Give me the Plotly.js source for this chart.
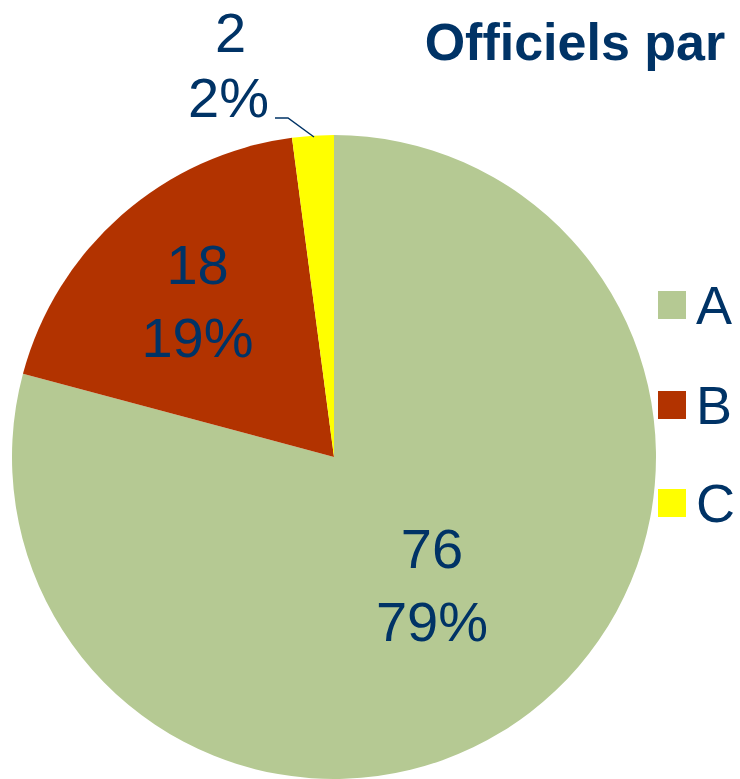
<!DOCTYPE html>
<html>
<head>
<meta charset="utf-8">
<script src="https://cdn.plot.ly/plotly-3.0.1.min.js"></script>
<style>html,body{margin:0;padding:0;background:#fff;}#chart{width:740px;height:779px;}</style>
</head>
<body>
<div id="chart"></div>
<script>
const categories = ['A', 'B', 'C'];
const values = [76, 18, 2];
const colors = ['#b5c993', '#b23300', '#ffff00'];
const titleText = 'Officiels par';
const textColor = '#003366';
const FONT = 'Liberation Sans, Arial, sans-serif';

const W = 740, H = 779;
const px = x => x / W;
const py = y => 1 - y / H;

const total = values.reduce((a, b) => a + b, 0);
const pct = v => Math.round(100 * v / total) + '%';

const legendY = [305, 405, 503];
const shapes = [];
const annotations = [];
categories.forEach((c, i) => {
  shapes.push({type: 'rect', xref: 'paper', yref: 'paper',
    x0: px(658), x1: px(686), y0: py(legendY[i] + 14), y1: py(legendY[i] - 14),
    fillcolor: colors[i], line: {width: 0}});
  annotations.push({xref: 'paper', yref: 'paper', x: px(694), y: py(legendY[i]),
    xanchor: 'left', yanchor: 'middle', showarrow: false, text: c,
    font: {family: FONT, size: 54, color: textColor}});
});

// outside label for the small slice C, with a leader line
annotations.push({xref: 'paper', yref: 'paper', x: px(230), y: py(32), xanchor: 'center', yanchor: 'middle',
  showarrow: false, text: String(values[2]), font: {family: FONT, size: 56, color: textColor}});
annotations.push({xref: 'paper', yref: 'paper', x: px(228), y: py(97), xanchor: 'center', yanchor: 'middle',
  showarrow: false, text: pct(values[2]), font: {family: FONT, size: 56, color: textColor}});
shapes.push({type: 'path', xref: 'paper', yref: 'paper',
  path: `M ${px(275)} ${py(118)} L ${px(288)} ${py(118)} L ${px(314)} ${py(137)}`,
  line: {color: textColor, width: 1.5}});

const trace = {
  type: 'pie',
  labels: categories,
  values: values,
  sort: false,
  direction: 'clockwise',
  rotation: 0,
  marker: {colors: colors, line: {width: 0}},
  texttemplate: ['%{value}<br>%{percent:.0%}', '%{value}<br>%{percent:.0%}', ''],
  textposition: ['inside', 'inside', 'none'],
  insidetextorientation: 'horizontal',
  textfont: {family: FONT, size: 56, color: textColor},
  domain: {x: [0.0162, 0.8865], y: [0, 0.8267]},
  hoverinfo: 'none',
  showlegend: false
};

const layout = {
  width: W, height: H,
  margin: {l: 0, r: 0, t: 0, b: 0},
  paper_bgcolor: '#ffffff',
  showlegend: false,
  title: {text: '<b>' + titleText + '</b>', x: 0.98, xanchor: 'right', y: 0.97, yanchor: 'top',
    font: {family: FONT, size: 52, color: textColor}},
  shapes: shapes,
  annotations: annotations
};

Plotly.newPlot('chart', [trace], layout, {staticPlot: true});
</script>
</body>
</html>
